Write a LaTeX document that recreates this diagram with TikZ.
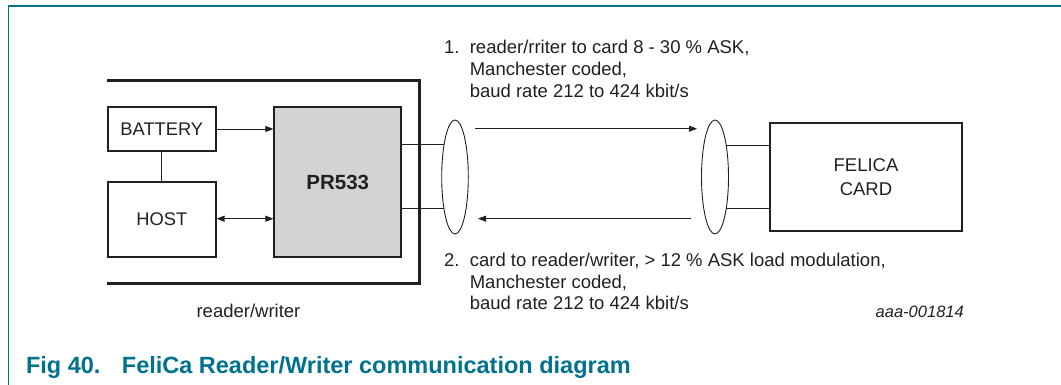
\documentclass[tikz,border=0pt]{standalone}
\usepackage{fontspec}
\setmainfont{Liberation Sans}
\usetikzlibrary{arrows.meta,shapes.geometric}
\definecolor{nxpteal}{RGB}{0,114,142}
\definecolor{chipgray}{RGB}{209,211,212}
\definecolor{ink}{RGB}{35,31,32}
\tikzset{
  blk/.style={draw=ink, line width=2pt, inner sep=0pt, text=ink},
  conn/.style={draw=ink, line width=0.9pt},
  arr/.style={conn, -{Triangle[length=8pt,width=6pt]}},
  darr/.style={conn, {Triangle[length=8pt,width=6pt]}-{Triangle[length=8pt,width=6pt]}},
  lab/.style={text=ink, inner sep=0pt, font=\fontsize{18.5}{22}\selectfont},
  antenna/.style={draw=ink, line width=0.9pt, ellipse, inner sep=0pt},
  figcaption/.style={text=nxpteal, inner sep=0pt, anchor=base west, font=\bfseries\fontsize{23.5}{26}\selectfont}
}
\begin{document}
\begin{tikzpicture}[x=1pt,y=-1pt]
\useasboundingbox (0,0) rectangle (1061,385);
% outer teal frame
\draw[nxpteal, line width=1.5pt] (8.3,385) -- (8.3,6) -- (1061,6);
% reader/writer enclosure
\draw[ink, line width=2.5pt] (107.4,80.7) -- (419.4,80.7) -- (419.4,283.3) -- (107.4,283.3);
% blocks
\node[blk, minimum width=107.6pt, minimum height=43.4pt, font=\fontsize{18.3}{20}\selectfont] (battery) at (161.8,129) {BATTERY};
\node[blk, minimum width=107.6pt, minimum height=75.3pt, font=\fontsize{18.3}{20}\selectfont] (host) at (161.8,219.7) {HOST};
\node[blk, fill=chipgray, minimum width=126.8pt, minimum height=150pt, font=\bfseries\fontsize{20.5}{24}\selectfont] (pr533) at (337.8,182.3) {PR533};
\node[blk, minimum width=192pt, minimum height=107.7pt, align=center, font=\fontsize{18.5}{24}\selectfont] (card) at (866,176.9) {FELICA\\CARD};
% antennas
\node[antenna, minimum width=26.6pt, minimum height=114pt] (lant) at (455,177) {};
\node[antenna, minimum width=27pt, minimum height=114pt] (rant) at (715,177) {};
% internal connections
\draw[conn] (battery.south) -- (host.north);
\draw[arr] (battery.east) -- (pr533.west |- battery.east);
\draw[darr] (host.east |- 0,218.7) -- (pr533.west |- 0,218.7);
% antenna leads
\coordinate (la1) at (444.2,144);
\coordinate (la2) at (444.2,208.3);
\coordinate (ra1) at (726,145);
\coordinate (ra2) at (726,208.3);
\draw[conn] (pr533.east |- la1) -- (la1);
\draw[conn] (pr533.east |- la2) -- (la2);
\draw[conn] (ra1) -- (card.west |- ra1);
\draw[conn] (ra2) -- (card.west |- ra2);
% communication arrows
\coordinate (a1s) at (475,128.7);
\coordinate (a1e) at (697,128.7);
\coordinate (a2s) at (691,218.7);
\coordinate (a2e) at (478,218.7);
\draw[arr] (a1s) -- (a1e);
\draw[arr] (a2s) -- (a2e);
% annotations
\node[lab, anchor=base west] (n1) at (444,54) {1.};
\node[lab, anchor=base west] (t1a) at (469.6,54) {reader/rriter to card 8 - 30 \% ASK,};
\node[lab, anchor=base west] (t1b) at (469.6,76) {Manchester coded,};
\node[lab, anchor=base west] (t1c) at (469.6,98) {baud rate 212 to 424 kbit/s};
\node[lab, anchor=base west] (n2) at (444,266) {2.};
\node[lab, anchor=base west] (t2a) at (469.6,266) {card to reader/writer, > 12 \% ASK load modulation,};
\node[lab, anchor=base west] (t2b) at (469.6,288) {Manchester coded,};
\node[lab, anchor=base west] (t2c) at (469.6,309.5) {baud rate 212 to 424 kbit/s};
\node[lab, anchor=base] (rw) at (248.5,317) {reader/writer};
\node[lab, anchor=base east, font=\itshape\fontsize{16.5}{20}\selectfont] (code) at (964,317.5) {aaa-001814};
% caption
\node[figcaption] (fig) at (25.8,373) {Fig 40.};
\node[figcaption] (title) at (121.7,373) {FeliCa Reader/Writer communication diagram};
\end{tikzpicture}
\end{document}
